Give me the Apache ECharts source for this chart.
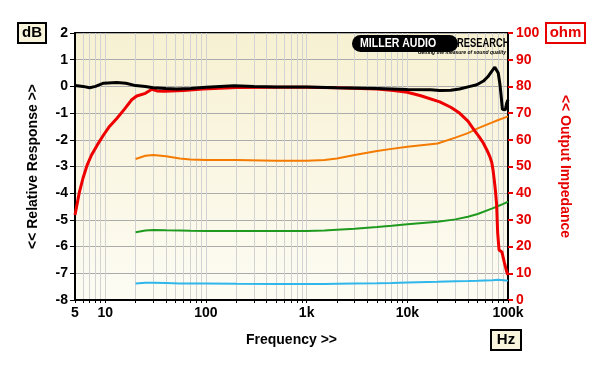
<!DOCTYPE html>
<html>
<head>
<meta charset="utf-8">
<script src="https://cdn.jsdelivr.net/npm/echarts@6/dist/echarts.min.js"></script>
<style>html,body{margin:0;padding:0;background:#fff;}#c{width:600px;height:368px;}</style>
</head>
<body>
<div id="c"></div>
<script>
// ---- Data ----
var xLabelValues = [5, 10, 100, 1000, 10000, 100000];
var xLabelText = {5:'5', 10:'10', 100:'100', 1000:'1k', 10000:'10k', 100000:'100k'};
var xTickValues = [5,6,7,8,9,10,20,30,40,50,60,70,80,90,100,200,300,400,500,600,700,800,900,1000,2000,3000,4000,5000,6000,7000,8000,9000,10000,20000,30000,40000,50000,60000,70000,80000,90000,100000];

var freqBlack = [5,6,7,8,9.6,13,16,20,25,30,40,51,70,100,190,300,500,1000,2000,5000,10000,17000,21000,27000,33000,42000,49000,57000,63000,70000,74000,77000,80000,83000,85000,88000,91000,94000,97000,100000];
var respBlack = [0.03,0,-0.05,0,0.12,0.15,0.12,0.03,0,-0.05,-0.08,-0.1,-0.08,-0.03,0.02,0,-0.02,-0.02,-0.05,-0.08,-0.12,-0.13,-0.15,-0.14,-0.1,0,0.06,0.2,0.36,0.6,0.72,0.68,0.5,0.1,-0.26,-0.86,-0.9,-0.88,-0.63,-0.5];

var freqRed = [5,5.5,6,6.6,7.3,8.3,9.6,11,13,15.5,18.3,20.5,25,29,32.5,38,45,60,93,200,500,1000,2000,5000,7300,10000,13600,21000,27000,33000,40000,46000,52000,57000,62000,66000,69000,71000,73000,75000,77000,79000,81500,84000,87000,92000,97000,100000];
var respRed = [-4.82,-4.0,-3.44,-2.95,-2.57,-2.2,-1.82,-1.5,-1.2,-0.85,-0.5,-0.36,-0.26,-0.11,-0.17,-0.18,-0.17,-0.15,-0.1,-0.04,-0.03,-0.03,-0.05,-0.1,-0.15,-0.22,-0.35,-0.58,-0.78,-1.0,-1.3,-1.63,-1.9,-2.13,-2.4,-2.63,-2.85,-3.13,-3.5,-3.9,-4.4,-5.5,-6.13,-6.17,-6.2,-6.6,-6.94,-7.06];

var freqImp = [20,25,30,40,55,70,100,200,500,1000,1500,2000,3000,5000,7000,10000,20000,30000,40000,50000,70000,80000,90000,100000];
var impOrange = [52.8,54.0,54.3,53.8,53.0,52.6,52.4,52.4,52.2,52.2,52.4,53.0,54.3,55.8,56.6,57.4,58.6,60.8,62.5,64.3,66.5,67.4,68.1,68.8];
var impGreen  = [25.4,26.0,26.2,26.1,26.0,25.9,25.8,25.8,25.8,25.8,26.0,26.3,26.7,27.3,27.8,28.4,29.3,30.2,31.2,32.2,34.3,35.2,36.0,36.8];
var impBlue   = [6.2,6.5,6.5,6.4,6.2,6.2,6.2,6.1,6.0,6.0,6.0,6.1,6.2,6.3,6.4,6.6,6.8,7.0,7.1,7.2,7.4,7.6,7.4,7.2];

function pairs(xs, ys){ return xs.map(function(x,i){ return [x, ys[i]]; }); }

var FONT = 'Arial, "Liberation Sans", sans-serif';
var RED = '#e60000';

var chart = echarts.init(document.getElementById('c'), null, {renderer:'canvas'});
chart.setOption({
  animation: false,
  backgroundColor: '#ffffff',
  grid: {
    left: 75, right: 92, top: 33, bottom: 68,
    show: true,
    backgroundColor: new echarts.graphic.LinearGradient(0,0,0,1,[{offset:0,color:'#f7f1d2'},{offset:1,color:'#fdfcf4'}]),
    borderColor: '#000', borderWidth: 2
  },
  xAxis: {
    type: 'log', logBase: 10, min: 5, max: 100000,
    name: 'Frequency >>', nameLocation: 'middle', nameGap: 33,
    nameTextStyle: {fontFamily: FONT, fontWeight: 'bold', fontSize: 14, color: '#000'},
    axisLine: {show: true, onZero: false, lineStyle: {color: '#000', width: 2}},
    axisTick: {show: true, customValues: xTickValues, length: 3, inside: false, lineStyle: {color: '#000', width: 1}},
    axisLabel: {customValues: xLabelValues, formatter: function(v){ return xLabelText[v] || ''; }, fontFamily: FONT, fontWeight: 'bold', fontSize: 14, color: '#000', margin: 6},
    splitLine: {show: true, lineStyle: {color: '#d2d2d2', width: 1}}
  },
  yAxis: [{
    type: 'value', min: -8, max: 2, interval: 1, position: 'left',
    name: '<< Relative Response >>', nameLocation: 'middle', nameGap: 35, nameRotate: 90,
    nameTextStyle: {fontFamily: FONT, fontWeight: 'bold', fontSize: 14, color: '#000'},
    axisLine: {show: true, onZero: false, lineStyle: {color: '#000', width: 2}},
    axisTick: {show: true, length: 5, inside: false, lineStyle: {color: '#000', width: 1}},
    axisLabel: {fontFamily: FONT, fontWeight: 'bold', fontSize: 14, color: '#000', margin: 7},
    splitLine: {show: true, lineStyle: {color: '#ababab', width: 1}}
  },{
    type: 'value', min: 0, max: 100, interval: 10, position: 'right',
    name: '<< Output Impedance', nameLocation: 'middle', nameGap: 50, nameRotate: -90,
    nameTextStyle: {fontFamily: FONT, fontWeight: 'bold', fontSize: 14, color: RED},
    axisLine: {show: true, onZero: false, lineStyle: {color: '#000', width: 2}},
    axisTick: {show: true, length: 5, inside: false, lineStyle: {color: RED, width: 2}},
    axisLabel: {fontFamily: FONT, fontWeight: 'bold', fontSize: 14, color: RED, margin: 8},
    splitLine: {show: false}
  }],
  series: [
    {type:'line', name:'orange', yAxisIndex:1, data: pairs(freqImp, impOrange), showSymbol:false, lineStyle:{color:'#f47a00', width:2}, z:2},
    {type:'line', name:'green', yAxisIndex:1, data: pairs(freqImp, impGreen), showSymbol:false, lineStyle:{color:'#1f9a1f', width:2}, z:2},
    {type:'line', name:'blue', yAxisIndex:1, data: pairs(freqImp, impBlue), showSymbol:false, lineStyle:{color:'#2fb6ea', width:2}, z:2},
    {type:'line', name:'red', yAxisIndex:0, data: pairs(freqRed, respRed), showSymbol:false, lineStyle:{color:'#ee0000', width:3}, z:3},
    {type:'line', name:'black', yAxisIndex:0, data: pairs(freqBlack, respBlack), showSymbol:false, lineStyle:{color:'#000', width:3}, z:4}
  ],
  graphic: [
    {type:'rect', shape:{x:18, y:23, width:28, height:20}, style:{fill:'#f8f5dc', stroke:'#000', lineWidth:2}},
    {type:'text', x:32, y:33, style:{text:'dB', fontFamily: FONT, fontWeight:'bold', fontSize:15, fill:'#000', align:'center', verticalAlign:'middle'}},
    {type:'rect', shape:{x:546, y:23, width:39, height:20}, style:{fill:'#fff', stroke:RED, lineWidth:2}},
    {type:'text', x:565.5, y:33, style:{text:'ohm', fontFamily: FONT, fontWeight:'bold', fontSize:15, fill:RED, align:'center', verticalAlign:'middle'}},
    {type:'rect', shape:{x:491, y:330, width:30, height:20}, style:{fill:'#f8f5dc', stroke:'#000', lineWidth:2}},
    {type:'text', x:506, y:340, style:{text:'Hz', fontFamily: FONT, fontWeight:'bold', fontSize:15, fill:'#000', align:'center', verticalAlign:'middle'}},
    // logo
    {type:'rect', shape:{x:352, y:35, width:106, height:17, r:8.5}, style:{fill:'#000'}, z:10},
    {type:'text', x:360, y:43.5, scaleX:0.88, style:{text:'MILLER AUDIO', fontFamily: FONT, fontWeight:'bold', fontSize:12, fill:'#fff', align:'left', verticalAlign:'middle'}, z:11},
    {type:'text', x:457, y:43.5, scaleX:0.78, style:{text:'RESEARCH', fontFamily: FONT, fontWeight:'bold', fontSize:12, fill:'#000', align:'left', verticalAlign:'middle'}, z:11},
    {type:'text', x:506, y:53, style:{text:'Getting the measure of sound quality', fontFamily: FONT, fontStyle:'italic', fontWeight:'bold', fontSize:5, fill:'#000', align:'right', verticalAlign:'middle'}, z:11}
  ]
});
</script>
</body>
</html>
